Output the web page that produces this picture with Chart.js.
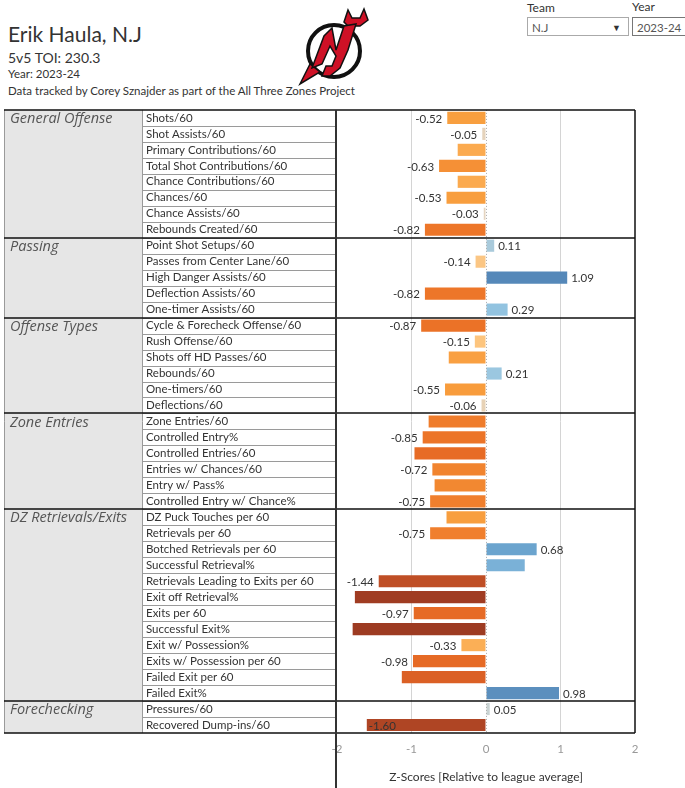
<!DOCTYPE html>
<html>
<head>
<meta charset="utf-8">
<script src="https://cdn.jsdelivr.net/npm/chart.js@4.4.1/dist/chart.umd.min.js"></script>
<style>
  body { margin: 0; background: #fff; font-family: Lato, "Noto Sans", sans-serif; color: #333; }
  #page { position: relative; width: 685px; height: 788px; overflow: hidden; }
  .abs { position: absolute; white-space: nowrap; }
  #title { left: 8px; top: 21px; font-size: 21px; }
  #toi { left: 8px; top: 49px; font-size: 14px; }
  #year { left: 8px; top: 67px; font-size: 11.5px; }
  #source { left: 8px; top: 84px; font-size: 11.5px; }
  .flabel { font-size: 12px; color: #333; }
  .fbox { border: 1px solid #aaa; height: 19px; font-size: 11.5px; color: #555; line-height: 19px; padding-left: 4px; box-sizing: border-box; }
  #chartBox { position: absolute; left: 0; top: 100px; width: 685px; height: 688px; }
</style>
</head>
<body>
<div id="page">
  <div class="abs" id="title">Erik Haula, N.J</div>
  <div class="abs" id="toi">5v5 TOI: 230.3</div>
  <div class="abs" id="year">Year: 2023-24</div>
  <div class="abs" id="source">Data tracked by Corey Sznajder as part of the All Three Zones Project</div>

  <svg class="abs" style="left:296px;top:6px" width="80" height="80" viewBox="0 0 80 80">
    <path d="M48 16 L52 4 L56 12 L64 12 L68 3 L72 14 L64 20 L52 20 Z" fill="#ce1126" stroke="#111" stroke-width="1.5"/>
    <circle cx="38" cy="45" r="26" fill="#fff" stroke="#111" stroke-width="4"/>
    <path d="M14 58 L4 78 L24 66 Z" fill="#ce1126" stroke="#111" stroke-width="1.5"/>
    <path d="M16 62 L28 30 L36 22 L40 44 L48 20 L60 18 L52 44 L44 62 L34 70 L26 70 L30 60 L36 60 L40 50 L34 40 L26 58 Z" fill="#ce1126" stroke="#111" stroke-width="1.5"/>
  </svg>

  <div class="abs flabel" style="left:527px;top:0px">Team</div>
  <div class="abs fbox" style="left:527px;top:17px;width:102px">N.J<span style="position:absolute;right:7px;font-size:9px;color:#333">&#9660;</span></div>
  <div class="abs flabel" style="left:632px;top:-1px">Year</div>
  <div class="abs fbox" style="left:632px;top:17px;width:60px;border-color:#777">2023-24</div>

  <div id="chartBox"><canvas id="chart"></canvas></div>
</div>
<script>
const groupNames = ['General Offense', 'Passing', 'Offense Types', 'Zone Entries', 'DZ Retrievals/Exits', 'Forechecking'];
const groupSizes = [8, 5, 6, 6, 12, 2];

const metrics = [
  'Shots/60', 'Shot Assists/60', 'Primary Contributions/60', 'Total Shot Contributions/60',
  'Chance Contributions/60', 'Chances/60', 'Chance Assists/60', 'Rebounds Created/60',
  'Point Shot Setups/60', 'Passes from Center Lane/60', 'High Danger Assists/60',
  'Deflection Assists/60', 'One-timer Assists/60',
  'Cycle & Forecheck Offense/60', 'Rush Offense/60', 'Shots off HD Passes/60',
  'Rebounds/60', 'One-timers/60', 'Deflections/60',
  'Zone Entries/60', 'Controlled Entry%', 'Controlled Entries/60', 'Entries w/ Chances/60',
  'Entry w/ Pass%', 'Controlled Entry w/ Chance%',
  'DZ Puck Touches per 60', 'Retrievals per 60', 'Botched Retrievals per 60',
  'Successful Retrieval%', 'Retrievals Leading to Exits per 60', 'Exit off Retrieval%',
  'Exits per 60', 'Successful Exit%', 'Exit w/ Possession%', 'Exits w/ Possession per 60',
  'Failed Exit per 60', 'Failed Exit%',
  'Pressures/60', 'Recovered Dump-ins/60'
];

const zScores = [
  -0.52, -0.05, -0.38, -0.63, -0.38, -0.53, -0.03, -0.82,
  0.11, -0.14, 1.09, -0.82, 0.29,
  -0.87, -0.15, -0.50, 0.21, -0.55, -0.06,
  -0.77, -0.85, -0.96, -0.72, -0.69, -0.75,
  -0.53, -0.75, 0.68, 0.52, -1.44, -1.76, -0.97, -1.79, -0.33, -0.98, -1.13, 0.98,
  0.05, -1.60
];

// 1 = Tableau showed the value label on this bar
const labelShown = [
  1, 1, 0, 1, 0, 1, 1, 1,
  1, 1, 1, 1, 1,
  1, 1, 0, 1, 1, 1,
  0, 1, 0, 1, 0, 1,
  0, 1, 1, 0, 1, 0, 1, 0, 1, 1, 0, 1,
  1, 1
];

const xTicks = [-2, -1, 0, 1, 2];

// orange-blue diverging colour ramp
const negStops = [[0, '#e6d8c8'], [0.05, '#e5d3bc'], [0.15, '#fdc57e'], [0.35, '#fbad52'],
  [0.55, '#f89c3c'], [0.8, '#ee7829'], [1.0, '#e56824'], [1.2, '#d55c25'], [1.45, '#be4d25'], [1.8, '#9c3a22']];
const posStops = [[0, '#d0d4d4'], [0.05, '#c9d3d3'], [0.11, '#a9cadb'], [0.25, '#96c6e2'],
  [0.5, '#7cb3d8'], [0.7, '#69a2cd'], [1.0, '#5a8ebd'], [1.1, '#5487b8']];

function hex(c) {
  return [1, 3, 5].map(i => parseInt(c.substr(i, 2), 16));
}

function rampColor(v) {
  const stops = v < 0 ? negStops : posStops;
  const a = Math.abs(v);
  for (let i = 1; i < stops.length; i++) {
    if (a <= stops[i][0]) {
      const t = (a - stops[i - 1][0]) / (stops[i][0] - stops[i - 1][0]);
      const c0 = hex(stops[i - 1][1]), c1 = hex(stops[i][1]);
      const c = c0.map((x, k) => Math.round(x + (c1[k] - x) * t));
      return 'rgb(' + c.join(',') + ')';
    }
  }
  return stops[stops.length - 1][1];
}

const valueLabels = {
  id: 'valueLabels',
  afterDatasetsDraw(chart) {
    const ctx = chart.ctx;
    const meta = chart.getDatasetMeta(0);
    const area = chart.chartArea;
    ctx.save();
    ctx.font = '11.5px Lato, "Noto Sans", sans-serif';
    ctx.fillStyle = '#333';
    ctx.textBaseline = 'middle';
    meta.data.forEach(function(bar, i) {
      if (!labelShown[i]) return;
      const v = zScores[i];
      const text = v.toFixed(2);
      const w = ctx.measureText(text).width;
      const y = bar.y + 1;
      if (v >= 0) {
        ctx.textAlign = 'left';
        ctx.fillText(text, bar.x + 4, y);
      } else if (bar.x - 5 - w < area.left) {
        ctx.textAlign = 'left';
        ctx.fillText(text, bar.x + 2, y);
      } else {
        ctx.textAlign = 'right';
        ctx.fillText(text, bar.x - 5, y);
      }
    });
    ctx.restore();
  }
};

const tableFrame = {
  id: 'tableFrame',
  beforeDraw(chart) {
    const ctx = chart.ctx;
    const area = chart.chartArea;
    const yScale = chart.scales.y;
    const rowH = (area.bottom - area.top) / metrics.length;
    const left = 4, split = 142;
    ctx.save();
    ctx.fillStyle = '#e6e6e6';
    ctx.fillRect(left, area.top, split - left, area.bottom - area.top);

    // light row separators inside label column
    ctx.strokeStyle = '#9a9a9a';
    ctx.lineWidth = 1;
    for (let i = 1; i < metrics.length; i++) {
      const y = Math.round(yScale.getPixelForValue(i) - rowH / 2) + 0.5;
      ctx.beginPath();
      ctx.moveTo(split, y);
      ctx.lineTo(area.left, y);
      ctx.stroke();
    }
    ctx.beginPath();
    ctx.moveTo(split + 0.5, area.top);
    ctx.lineTo(split + 0.5, area.bottom);
    ctx.moveTo(left + 0.5, area.top);
    ctx.lineTo(left + 0.5, area.bottom);
    ctx.stroke();

    // group labels
    ctx.font = 'italic 14.5px "Open Sans", Lato, sans-serif';
    ctx.fillStyle = '#555';
    ctx.textBaseline = 'middle';
    let start = 0;
    groupNames.forEach(function(name, g) {
      const y = yScale.getPixelForValue(start);
      ctx.fillText(name, 10, y + 1);
      start += groupSizes[g];
    });
    ctx.restore();
  },
  afterDraw(chart) {
    const ctx = chart.ctx;
    const area = chart.chartArea;
    const yScale = chart.scales.y;
    const xScale = chart.scales.x;
    const rowH = (area.bottom - area.top) / metrics.length;
    ctx.save();

    // dotted zero line
    const x0 = Math.round(xScale.getPixelForValue(0)) + 0.5;
    ctx.strokeStyle = '#aaa';
    ctx.setLineDash([1, 2]);
    ctx.beginPath();
    ctx.moveTo(x0, area.top);
    ctx.lineTo(x0, area.bottom);
    ctx.stroke();
    ctx.setLineDash([]);

    // group separators
    ctx.strokeStyle = '#111';
    ctx.lineWidth = 1.5;
    let start = 0;
    ctx.beginPath();
    groupSizes.forEach(function(n) {
      const y = Math.round(yScale.getPixelForValue(start) - rowH / 2);
      ctx.moveTo(4, y);
      ctx.lineTo(area.right, y);
      start += n;
    });
    ctx.moveTo(4, area.bottom);
    ctx.lineTo(area.right, area.bottom);
    ctx.moveTo(area.right, area.top);
    ctx.lineTo(area.right, area.bottom);
    ctx.stroke();

    ctx.strokeStyle = '#333';
    ctx.lineWidth = 2;
    ctx.beginPath();
    ctx.moveTo(area.left - 1, area.top);
    ctx.lineTo(area.left - 1, chart.height);
    ctx.stroke();
    ctx.restore();
  }
};

new Chart(document.getElementById('chart'), {
  type: 'bar',
  data: {
    labels: metrics,
    datasets: [{
      data: zScores,
      backgroundColor: zScores.map(rampColor),
      barPercentage: 0.76,
      categoryPercentage: 1
    }]
  },
  plugins: [tableFrame, valueLabels],
  options: {
    indexAxis: 'y',
    responsive: true,
    maintainAspectRatio: false,
    animation: false,
    layout: { padding: { left: 146, right: 50, top: 8, bottom: 0 } },
    plugins: { legend: { display: false }, tooltip: { enabled: false } },
    scales: {
      y: {
        afterFit(scale) { scale.width = 191; },
        border: { display: false },
        grid: { display: false },
        ticks: {
          autoSkip: false,
          crossAlign: 'far',
          color: '#333',
          font: { family: 'Lato, "Noto Sans", sans-serif', size: 11.5 }
        }
      },
      x: {
        min: -2,
        max: 2,
        afterFit(scale) { scale.height = 55; },
        afterBuildTicks(scale) { scale.ticks = xTicks.map(v => ({ value: v })); },
        border: { display: false },
        grid: {
          drawTicks: false,
          color: ctx => (ctx.tick && (ctx.tick.value === 0 || Math.abs(ctx.tick.value) === 2)) ? 'rgba(0,0,0,0)' : '#d4d4d4'
        },
        ticks: {
          padding: 9,
          color: '#999',
          font: { family: 'Lato, "Noto Sans", sans-serif', size: 11.5 }
        },
        title: {
          display: true,
          text: 'Z-Scores [Relative to league average]',
          color: '#333',
          font: { family: 'Lato, "Noto Sans", sans-serif', size: 12 },
          padding: { top: 4, bottom: 4 }
        }
      }
    }
  }
});
</script>
</body>
</html>
